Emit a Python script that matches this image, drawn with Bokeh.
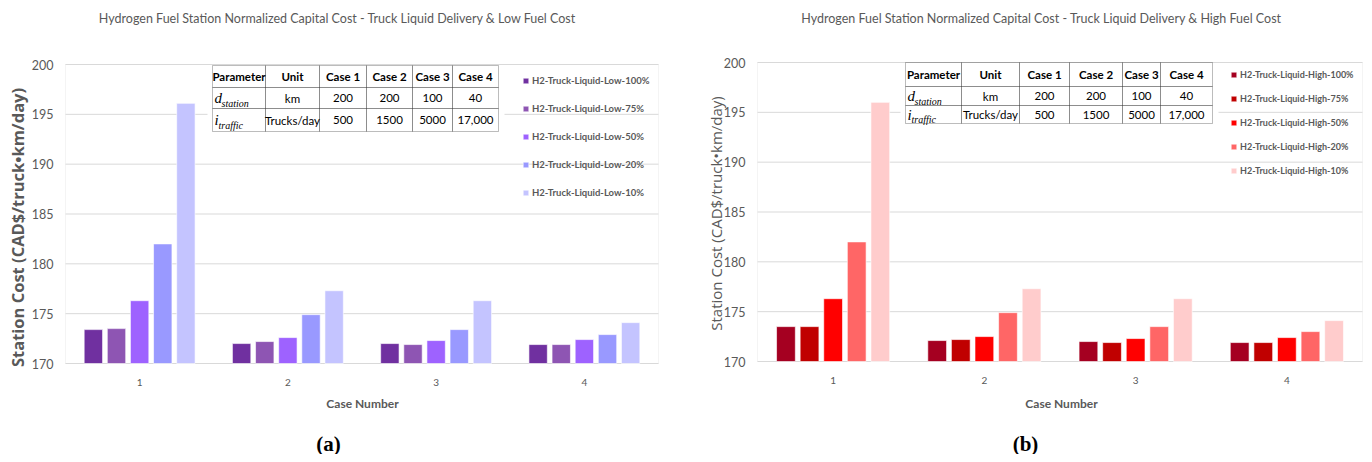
import math
from bokeh.plotting import figure
from bokeh.models import (Range1d, FixedTicker, Legend, LegendItem, BoxAnnotation,
                          Label, ColumnDataSource)
from bokeh.layouts import row
from bokeh.transform import dodge
from bokeh.embed import file_html
from bokeh.resources import INLINE

# ---------------- data ----------------
cases = [1, 2, 3, 4]
y_ticks = [170, 175, 180, 185, 190, 195, 200]

low_names = ["H2-Truck-Liquid-Low-100%", "H2-Truck-Liquid-Low-75%", "H2-Truck-Liquid-Low-50%",
             "H2-Truck-Liquid-Low-20%", "H2-Truck-Liquid-Low-10%"]
low_100 = [173.4, 172.0, 172.0, 171.9]
low_75 = [173.5, 172.2, 171.9, 171.9]
low_50 = [176.3, 172.6, 172.3, 172.4]
low_20 = [182.0, 174.9, 173.4, 172.9]
low_10 = [196.1, 177.3, 176.3, 174.1]

high_names = ["H2-Truck-Liquid-High-100%", "H2-Truck-Liquid-High-75%", "H2-Truck-Liquid-High-50%",
              "H2-Truck-Liquid-High-20%", "H2-Truck-Liquid-High-10%"]
high_100 = [173.5, 172.1, 172.0, 171.9]
high_75 = [173.5, 172.2, 171.9, 171.9]
high_50 = [176.3, 172.5, 172.3, 172.4]
high_20 = [182.0, 174.9, 173.5, 173.0]
high_10 = [196.0, 177.3, 176.3, 174.1]

table_header = ["Parameter", "Unit", "Case 1", "Case 2", "Case 3", "Case 4"]
d_station_row = ["km", "200", "200", "100", "40"]
i_traffic_row = ["Trucks/day", "500", "1500", "5000", "17,000"]

low_colors = ["#7030A0", "#8E55B3", "#9E62FF", "#9999FF", "#C4C4FF"]
high_colors = ["#A50021", "#C00000", "#FF0000", "#FF6666", "#FFCCCC"]

SANS = "Lato"
GRAY = "#595959"
GRID = "#D9D9D9"
Y0, Y1 = 170, 200
XA, XB = 0.5, 4.5
TOP = 8  # top border of the canvas (frame starts below it)


def make_chart(title, names, series, colors, tag, L):
    W, H = L["width"], L["height"]
    PL, PR, PT, PB = L["plot_box"]          # plot-area edges in canvas pixels

    def X(px):                              # canvas px -> data x
        return XA + (px - PL) / (PR - PL) * (XB - XA)

    def Y(py):                              # canvas px -> data y
        return Y1 - (py - PT) / (PB - PT) * (Y1 - Y0)

    p = figure(width=W, height=H, x_range=Range1d(X(0), X(W)), y_range=Range1d(Y(H), Y(TOP)),
               output_backend="svg", toolbar_location=None, tools="",
               min_border_left=0, min_border_right=0, min_border_top=TOP, min_border_bottom=0)
    p.outline_line_color = None
    p.background_fill_color = "white"
    p.border_fill_color = "white"
    p.xgrid.visible = False
    p.ygrid.visible = False

    # horizontal gridlines and plot-area border
    p.segment(x0=XA, x1=XB, y0=y_ticks, y1=y_ticks, line_color=GRID, line_width=1, level="underlay")
    p.add_layout(BoxAnnotation(left=XA, right=XB, bottom=Y0, top=Y1, fill_alpha=0,
                               line_color=GRID, line_width=1, level="underlay"))

    # axes pinned to the plot-area edges
    p.yaxis.fixed_location = XA
    p.yaxis.bounds = (Y0, Y1)
    p.yaxis.ticker = FixedTicker(ticks=y_ticks)
    p.yaxis.axis_line_color = None
    p.yaxis.major_tick_out = 0
    p.yaxis.major_tick_in = 0
    p.yaxis.minor_tick_out = 0
    p.yaxis.minor_tick_in = 0
    p.yaxis.major_label_standoff = 12
    p.yaxis.major_label_text_font = SANS
    p.yaxis.major_label_text_font_size = "12.5px"
    p.yaxis.major_label_text_color = GRAY

    p.xaxis.fixed_location = Y0
    p.xaxis.bounds = (XA, XB)
    p.xaxis.ticker = FixedTicker(ticks=cases)
    p.xaxis.axis_line_color = None
    p.xaxis.major_tick_out = 0
    p.xaxis.major_tick_in = 0
    p.xaxis.minor_tick_out = 0
    p.xaxis.minor_tick_in = 0
    p.xaxis.major_label_standoff = 15
    p.xaxis.major_label_text_font = SANS
    p.xaxis.major_label_text_font_size = "10px"
    p.xaxis.major_label_text_color = GRAY

    def text_at(pos, text, **kw):
        p.add_layout(Label(x=X(pos[0]), y=Y(pos[1]), text=text, text_align="center",
                           text_baseline="middle", **kw))

    # titles and axis names
    text_at(L["title_pos"], title, text_font=SANS, text_font_size="12.5px", text_color=GRAY)
    text_at(L["ylabel_pos"], "Station Cost (CAD$/truck\u2022km/day)", angle=math.pi / 2,
            text_font="Open Sans", text_font_size=L["ylabel_size"],
            text_font_style=L["ylabel_style"], text_color=GRAY)
    text_at(L["xlabel_pos"], "Case Number", text_font=SANS, text_font_size="12px",
            text_font_style="bold", text_color=GRAY)
    text_at(L["tag_pos"], tag, text_font="Liberation Serif", text_font_size="21px",
            text_font_style="bold", text_color="black")

    # bars
    data = {"case": cases}
    for i, vals in enumerate(series):
        data[f"s{i}"] = vals
    src = ColumnDataSource(data)
    offsets = [-0.312, -0.156, 0.0, 0.156, 0.312]
    items = []
    for i, (name, col) in enumerate(zip(names, colors)):
        r = p.vbar(x=dodge("case", offsets[i], range=p.x_range), top=f"s{i}", bottom=Y0,
                   width=0.124, source=src, fill_color=col, line_color="white",
                   line_alpha=0.6, line_width=1)
        items.append(LegendItem(label=name, renderers=[r]))

    leg = Legend(items=items, location=L["leg_loc"], margin=0, padding=0,
                 spacing=L["leg_spacing"], label_height=14, glyph_height=7, glyph_width=7,
                 label_standoff=3, label_text_font=SANS, label_text_font_size=L["leg_size"],
                 label_text_font_style="bold", label_text_color=GRAY,
                 background_fill_alpha=0, border_line_alpha=0)
    p.add_layout(leg)

    # parameter table (pixel offsets from the plot-area top-left corner)
    xs = [PL + v for v in L["tab_x"]]
    ys = [PT + v for v in L["tab_y"]]
    p.add_layout(BoxAnnotation(left=X(xs[0] - 5), right=X(xs[-1] + 6), top=Y(ys[0] + 1),
                               bottom=Y(ys[-1] + 3), fill_color="white", fill_alpha=1,
                               line_alpha=0, level="annotation"))
    for r_i in range(3):
        for c_i in range(6):
            p.add_layout(BoxAnnotation(left=X(xs[c_i]), right=X(xs[c_i + 1]), top=Y(ys[r_i]),
                                       bottom=Y(ys[r_i + 1]), fill_alpha=0, line_color="#222222",
                                       line_width=1))

    def cell_text(r_i, c_i, text, style="normal"):
        pos = ((xs[c_i] + xs[c_i + 1]) / 2, (ys[r_i] + ys[r_i + 1]) / 2)
        text_at(pos, text, text_font=SANS, text_font_size="11.5px", text_font_style=style,
                text_color="black")

    for c_i, t in enumerate(table_header):
        cell_text(0, c_i, t, "bold")
    for c_i, t in enumerate(d_station_row):
        cell_text(1, c_i + 1, t)
    for c_i, t in enumerate(i_traffic_row):
        cell_text(2, c_i + 1, t)

    def math_cell(r_i, base, sub, sub_dx):
        cy = (ys[r_i] + ys[r_i + 1]) / 2
        p.add_layout(Label(x=X(xs[0] + 2), y=Y(cy), text=base, text_align="left",
                           text_baseline="middle", text_font="Liberation Serif",
                           text_font_size="15px", text_font_style="italic", text_color="black"))
        p.add_layout(Label(x=X(xs[0] + sub_dx), y=Y(cy + 5), text=sub,
                           text_align="left", text_baseline="middle", text_font="Liberation Serif",
                           text_font_size="10px", text_font_style="italic", text_color="black"))

    math_cell(1, "d", "station", 9)
    math_cell(2, "i", "traffic", 6)
    return p


left_layout = dict(width=687, height=454, plot_box=(65, 658, 64, 363),
                   title_pos=(337, 18), ylabel_pos=(17, 227), xlabel_pos=(362, 403),
                   tag_pos=(328, 443),
                   ylabel_size="16.5px", ylabel_style="bold",
                   leg_loc=(522, 255), leg_spacing=14, leg_size="9.5px",
                   tab_x=[147, 200, 254, 301, 347, 387, 433], tab_y=[1, 23, 44, 67])
right_layout = dict(width=676, height=454, plot_box=(70, 675, 62, 361),
                    title_pos=(354, 18), ylabel_pos=(28, 213), xlabel_pos=(374, 403),
                    tag_pos=(338, 443),
                    ylabel_size="15px", ylabel_style="normal",
                    leg_loc=(543, 277), leg_spacing=10, leg_size="9px",
                    tab_x=[148, 204, 262, 312, 365, 403, 455], tab_y=[0, 24, 43, 61])

p1 = make_chart("Hydrogen Fuel Station Normalized Capital Cost - Truck Liquid Delivery & Low Fuel Cost",
                low_names, [low_100, low_75, low_50, low_20, low_10], low_colors, "(a)", left_layout)
p2 = make_chart("Hydrogen Fuel Station Normalized Capital Cost - Truck Liquid Delivery & High Fuel Cost",
                high_names, [high_100, high_75, high_50, high_20, high_10], high_colors, "(b)", right_layout)

layout = row(p1, p2)
open("out.html", "w").write(file_html(layout, INLINE))
